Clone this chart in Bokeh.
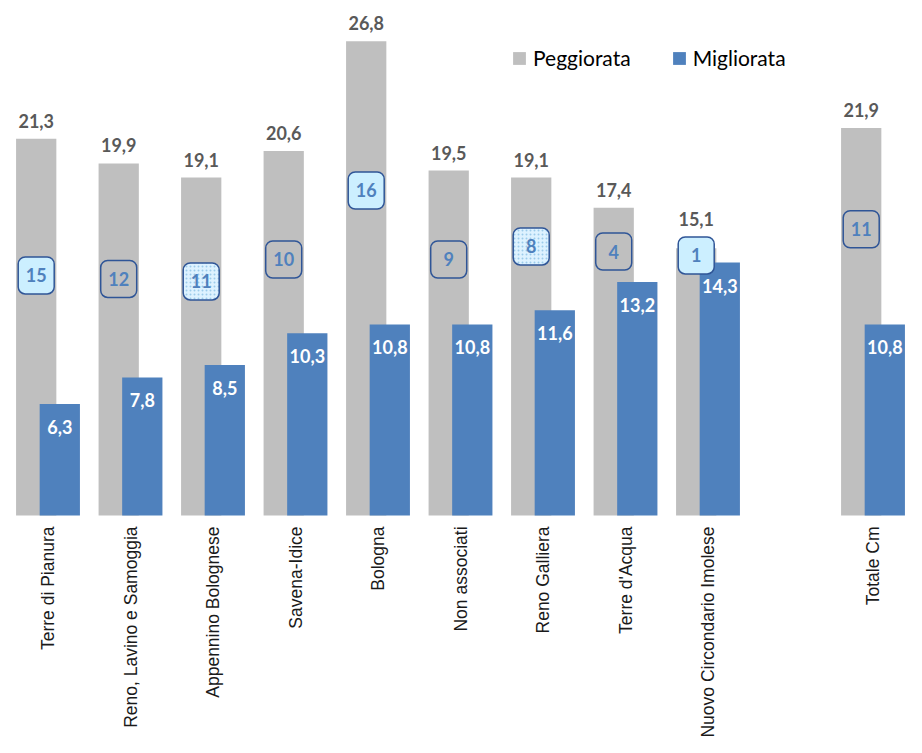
import math
from bokeh.plotting import figure
from bokeh.models import ColumnDataSource, Legend, LegendItem, Range1d
from bokeh.core.properties import value
from bokeh.embed import file_html
from bokeh.resources import INLINE

categories = ["Terre di Pianura", "Reno, Lavino e Samoggia", "Appennino Bolognese",
              "Savena-Idice", "Bologna", "Non associati", "Reno Galliera",
              "Terre d'Acqua", "Nuovo Circondario Imolese", "Totale Cm"]
slot = [1, 2, 3, 4, 5, 6, 7, 8, 9, 11]
peggiorata = [21.3, 19.9, 19.1, 20.6, 26.8, 19.5, 19.1, 17.4, 15.1, 21.9]
migliorata = [6.3, 7.8, 8.5, 10.3, 10.8, 10.8, 11.6, 13.2, 14.3, 10.8]
rank = [15, 12, 11, 10, 16, 9, 8, 4, 1, 11]
rank_level = [13.57, 13.37, 13.23, 14.47, 18.37, 14.47, 15.21, 14.92, 14.70, 16.18]
rank_style = ["solid", "none", "dots", "none", "solid", "none", "dots", "none", "solid", "none"]

GRAY = "#BFBFBF"
BLUE = "#4F81BD"
OFF = 0.143
BW = 0.488
Y0, Y1, H = -12.55, 29.11, 737
BOX_H = 37
box_half = (BOX_H / 2) * (Y1 - Y0) / H

def fmt(v):
    return f"{v:.1f}".replace(".", ",")

src = ColumnDataSource(dict(
    x=slot,
    xg=[s - OFF for s in slot],
    xb=[s + OFF for s in slot],
    cat=categories,
    peg=peggiorata,
    peg_lab=[max(v, r + box_half) for v, r in zip(peggiorata, rank_level)],
    mig=migliorata,
    peg_t=[fmt(v) for v in peggiorata],
    mig_t=[fmt(v) for v in migliorata],
    zero=[0] * len(slot),
))

p = figure(width=906, height=H, output_backend="svg", toolbar_location=None,
           x_range=Range1d(0.4242, 11.406), y_range=Range1d(Y0, Y1),
           min_border=0, outline_line_color=None)
p.axis.visible = False
p.grid.visible = False
p.background_fill_color = "white"
p.border_fill_color = "white"

rg = p.vbar(x="xg", top="peg", bottom=0, width=BW, source=src, fill_color=GRAY, line_color=None)
rb = p.vbar(x="xb", top="mig", bottom=0, width=BW, source=src, fill_color=BLUE, line_color=None)

# value labels
p.text(x="xg", y="peg_lab", text="peg_t", source=src, text_align="center", text_baseline="alphabetic",
       y_offset=-18, text_font=value("Lato"), text_font_style="bold", text_font_size="18px",
       text_color="#595959")
p.text(x="xb", y="mig", text="mig_t", source=src, text_align="center", text_baseline="alphabetic",
       y_offset=23, text_font=value("Lato"), text_font_style="bold", text_font_size="18px",
       text_color="white")

# rank boxes
fills = {"solid": "#CCEFFF", "none": None, "dots": "#DDF2FF"}
for style in ["solid", "none", "dots"]:
    idx = [i for i, s in enumerate(rank_style) if s == style]
    bsrc = ColumnDataSource(dict(
        x=[slot[i] - OFF for i in idx],
        y=[rank_level[i] for i in idx],
        t=[str(rank[i]) for i in idx],
    ))
    kw = {}
    if style == "dots":
        kw = dict(hatch_pattern="dot", hatch_color="#9CCBEA", hatch_scale=4, hatch_weight=1)
    p.rect(x="x", y="y", width=36, height=BOX_H, width_units="screen", height_units="screen",
           source=bsrc, fill_color=fills[style], fill_alpha=1.0 if fills[style] else 0,
           line_color="#2F5597", line_width=1.5, border_radius=7, **kw)
    p.text(x="x", y="y", text="t", source=bsrc, text_align="center", text_baseline="middle",
           text_font=value("Lato"), text_font_style="bold", text_font_size="18px",
           text_color="#4F81BD")

# category labels
p.text(x="x", y="zero", text="cat", source=src, angle=math.pi / 2, text_align="right",
       text_baseline="middle", y_offset=11, text_font=value("Liberation Sans"),
       text_font_size="17.5px", text_color="#1a1a1a")

legend = Legend(items=[LegendItem(label="Peggiorata", renderers=[rg]),
                       LegendItem(label="Migliorata", renderers=[rb])],
                orientation="horizontal", location=(511, 667),
                glyph_width=16, glyph_height=16, label_standoff=6, spacing=40,
                padding=0, margin=0, border_line_color=None, background_fill_alpha=0,
                label_text_font="Lato", label_text_font_size="21px", label_text_color="#000000")
p.add_layout(legend)

open("out.html", "w").write(file_html(p, INLINE))
